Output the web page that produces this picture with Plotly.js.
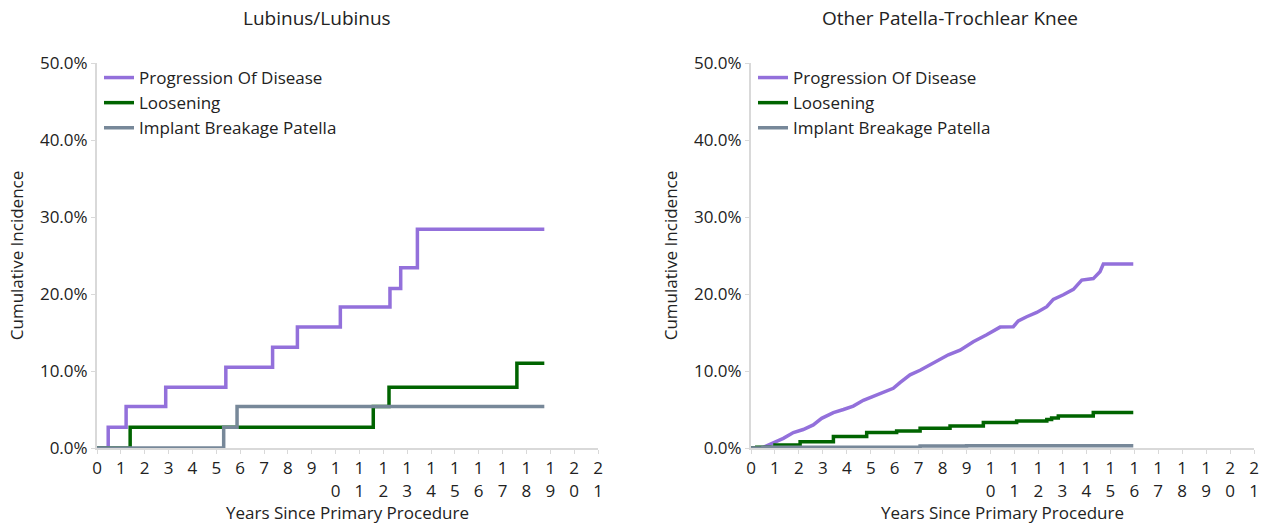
<!DOCTYPE html>
<html>
<head>
<meta charset="utf-8">
<script src="https://cdn.plot.ly/plotly-3.0.1.min.js"></script>
<style>html,body{margin:0;padding:0;background:#fff;}#chart{width:1266px;height:524px;}</style>
</head>
<body>
<div id="chart"></div>
<script>
// ---- Data (years since primary procedure, cumulative incidence %) ----
const seriesNames = ["Progression Of Disease", "Loosening", "Implant Breakage Patella"];
const panelTitles = ["Lubinus/Lubinus", "Other Patella-Trochlear Knee"];

// Lubinus/Lubinus
const lubProgX = [0, 0.47, 1.22, 2.88, 5.40, 7.36, 8.40, 10.20, 12.28, 12.73, 13.43, 18.75];
const lubProgY = [0, 2.7, 5.4, 7.9, 10.5, 13.1, 15.7, 18.3, 20.7, 23.4, 28.4, 28.4];
const lubLoosX = [0, 1.39, 11.58, 12.24, 17.60, 18.75];
const lubLoosY = [0, 2.7, 5.4, 7.9, 11.0, 11.0];
const lubBreakX = [0, 5.31, 5.87, 18.75];
const lubBreakY = [0, 2.7, 5.4, 5.4];

// Other Patella-Trochlear Knee
const othProgX = [0, 0.51, 1.35, 1.77, 2.18, 2.60, 2.95, 3.44, 3.86, 4.27, 4.69, 5.11, 5.52, 5.94, 6.22, 6.64, 7.06, 7.47, 7.89, 8.24, 8.73, 9.28, 9.84, 10.40, 10.95, 11.16, 11.51, 11.93, 12.35, 12.62, 13.04, 13.46, 13.81, 14.29, 14.57, 14.71, 15.96];
const othProgY = [0, 0.1, 1.25, 2.0, 2.4, 3.0, 3.85, 4.6, 5.0, 5.45, 6.2, 6.75, 7.3, 7.75, 8.5, 9.5, 10.1, 10.8, 11.4, 12.1, 12.7, 13.8, 14.7, 15.7, 15.75, 16.5, 17.05, 17.6, 18.35, 19.3, 19.9, 20.6, 21.8, 22.0, 22.9, 23.9, 23.9];
const othLoosX = [0, 0.24, 1.0, 2.05, 3.44, 4.83, 6.08, 7.06, 8.31, 9.70, 11.09, 12.35, 12.55, 12.83, 14.29, 15.96];
const othLoosY = [0, 0.1, 0.4, 0.8, 1.5, 2.0, 2.2, 2.55, 2.85, 3.3, 3.5, 3.7, 3.9, 4.15, 4.6, 4.6];
const othBreakX = [0, 0.5, 7.06, 9.0, 15.96];
const othBreakY = [0, 0.1, 0.25, 0.3, 0.3];

const xTickVals = [0,1,2,3,4,5,6,7,8,9,10,11,12,13,14,15,16,17,18,19,20,21];
const xTickText = ["0","1","2","3","4","5","6","7","8","9","1<br>0","1<br>1","1<br>2","1<br>3","1<br>4","1<br>5","1<br>6","1<br>7","1<br>8","1<br>9","2<br>0","2<br>1"];
const yTickVals = [0, 10, 20, 30, 40, 50];
const yTickText = ["0.0%", "10.0%", "20.0%", "30.0%", "40.0%", "50.0%"];

// ---- Styles ----
const colors = ["#9370DB", "#006400", "#778899"];
const FONT = "Segoe UI, Open Sans, sans-serif";
const W = 1266, H = 524;

function tr(x, y, i, xa, ya, lg, shape) {
  return {
    x: x, y: y, type: "scatter", mode: "lines",
    line: {color: colors[i], width: 3.5, shape: shape || "hv"},
    name: seriesNames[i], xaxis: xa, yaxis: ya, legend: lg,
    hoverinfo: "skip"
  };
}

const data = [
  tr(lubProgX, lubProgY, 0, "x", "y", "legend"),
  tr(lubLoosX, lubLoosY, 1, "x", "y", "legend"),
  tr(lubBreakX, lubBreakY, 2, "x", "y", "legend"),
  tr(othProgX, othProgY, 0, "x2", "y2", "legend2", "linear"),
  tr(othLoosX, othLoosY, 1, "x2", "y2", "legend2"),
  tr(othBreakX, othBreakY, 2, "x2", "y2", "legend2")
];

function xax(domain) {
  return {
    domain: domain, range: [0, 21], tickmode: "array", tickvals: xTickVals, ticktext: xTickText,
    showgrid: false, zeroline: false, showline: true, linecolor: "#d9d9d9", linewidth: 2,
    ticks: "outside", ticklen: 4, tickcolor: "#d9d9d9", tickwidth: 1,
    tickfont: {family: FONT, size: 17, color: "#222"},
    title: {text: "Years Since Primary Procedure", font: {family: FONT, size: 17, color: "#222"}, standoff: 3},
    fixedrange: true
  };
}
function yax(domain, anchor) {
  return {
    domain: domain, anchor: anchor, range: [0, 50], tickmode: "array", tickvals: yTickVals, ticktext: yTickText,
    showgrid: false, zeroline: false, showline: true, linecolor: "#d9d9d9", linewidth: 2,
    ticks: "outside", ticklen: 4, tickcolor: "#d9d9d9", tickwidth: 1,
    tickfont: {family: FONT, size: 17, color: "#222"},
    title: {text: "Cumulative Incidence", font: {family: FONT, size: 17, color: "#222"}, standoff: 12},
    fixedrange: true
  };
}

const yDom = [(H - 448) / H, (H - 63) / H];
const layout = {
  width: W, height: H,
  margin: {l: 0, r: 0, t: 0, b: 0},
  paper_bgcolor: "#fff", plot_bgcolor: "#fff",
  font: {family: FONT, color: "#222"},
  xaxis: Object.assign(xax([97 / W, 598 / W]), {anchor: "y"}),
  yaxis: yax(yDom, "x"),
  xaxis2: Object.assign(xax([751 / W, 1254 / W]), {anchor: "y2"}),
  yaxis2: yax(yDom, "x2"),
  legend: {x: 99 / W, y: (H - 60) / H, xanchor: "left", yanchor: "top", bgcolor: "rgba(0,0,0,0)",
           font: {family: FONT, size: 17, color: "#222"}, itemwidth: 30, tracegroupgap: 0},
  legend2: {x: 753 / W, y: (H - 60) / H, xanchor: "left", yanchor: "top", bgcolor: "rgba(0,0,0,0)",
            font: {family: FONT, size: 17, color: "#222"}, itemwidth: 30, tracegroupgap: 0},
  showlegend: true,
  annotations: [
    {text: panelTitles[0], x: 317 / W, y: 1 - 18 / H, xref: "paper", yref: "paper", xanchor: "center", yanchor: "middle",
     showarrow: false, font: {family: FONT, size: 19, color: "#222"}},
    {text: panelTitles[1], x: 950 / W, y: 1 - 18 / H, xref: "paper", yref: "paper", xanchor: "center", yanchor: "middle",
     showarrow: false, font: {family: FONT, size: 19, color: "#222"}}
  ]
};

Plotly.newPlot("chart", data, layout, {displayModeBar: false, staticPlot: true});
</script>
</body>
</html>
